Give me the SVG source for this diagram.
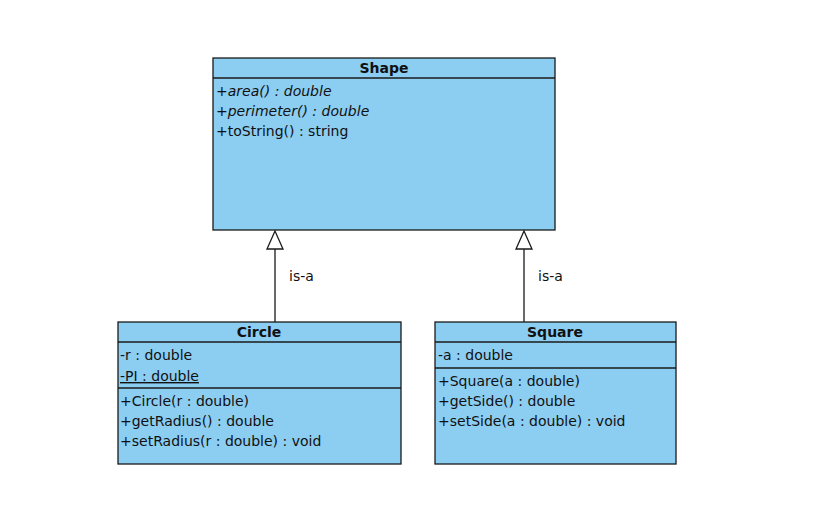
<svg xmlns="http://www.w3.org/2000/svg" width="817" height="519" viewBox="0 0 817 519">
<style>
.box{fill:#8ccdf2;stroke:#1a1a1a;stroke-width:1.3}
.ln{stroke:#1a1a1a;stroke-width:1.3}
text{font-family:"DejaVu Sans",sans-serif;font-size:14px;fill:#111}
.t{font-weight:bold;text-anchor:middle}
.i{font-style:italic}
</style>
<rect width="817" height="519" fill="#fff"/>
<g id="shape">
<rect class="box" x="213" y="58" width="342" height="172"/>
<line class="ln" x1="213" y1="78" x2="555" y2="78"/>
<text class="t" x="384" y="73">Shape</text>
<text class="i" x="216" y="96">+area() : double</text>
<text class="i" x="216" y="116">+perimeter() : double</text>
<text x="216" y="136">+toString() : string</text>
</g>
<g id="circle">
<rect class="box" x="118" y="322" width="283" height="142"/>
<line class="ln" x1="118" y1="342" x2="401" y2="342"/>
<line class="ln" x1="118" y1="388" x2="401" y2="388"/>
<text class="t" x="259" y="337">Circle</text>
<text x="120" y="360">-r : double</text>
<text x="120" y="381" text-decoration="underline">-PI : double</text>
<text x="120" y="406">+Circle(r : double)</text>
<text x="120" y="426">+getRadius() : double</text>
<text x="120" y="446">+setRadius(r : double) : void</text>
</g>
<g id="square">
<rect class="box" x="435" y="322" width="241" height="142"/>
<line class="ln" x1="435" y1="342" x2="676" y2="342"/>
<line class="ln" x1="435" y1="368" x2="676" y2="368"/>
<text class="t" x="555" y="337">Square</text>
<text x="438" y="360">-a : double</text>
<text x="438" y="386">+Square(a : double)</text>
<text x="438" y="406">+getSide() : double</text>
<text x="438" y="426">+setSide(a : double) : void</text>
</g>
<g id="connectors">
<line class="ln" x1="275" y1="322" x2="275" y2="249"/>
<polygon points="275,231 267,249 283,249" fill="#fff" stroke="#1a1a1a" stroke-width="1.3"/>
<text x="289" y="281">is-a</text>
<line class="ln" x1="524" y1="322" x2="524" y2="249"/>
<polygon points="524,231 516,249 532,249" fill="#fff" stroke="#1a1a1a" stroke-width="1.3"/>
<text x="538" y="281">is-a</text>
</g>
</svg>
